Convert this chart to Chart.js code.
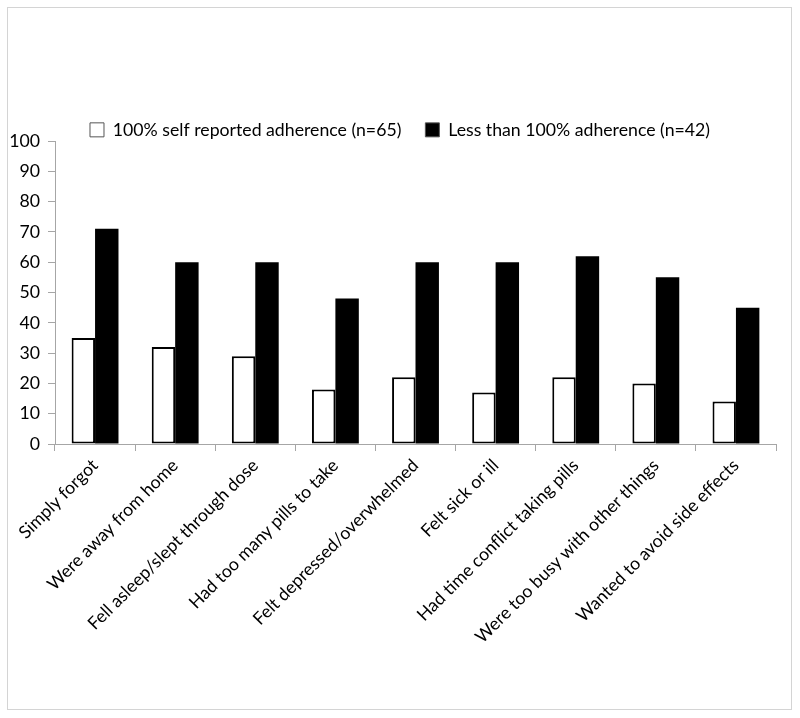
<!DOCTYPE html>
<html>
<head>
<meta charset="utf-8">
<script src="https://cdn.jsdelivr.net/npm/chart.js@4"></script>
<style>
    html, body { margin: 0; padding: 0; background: #fff; }
    #frame { position: absolute; left: 7px; top: 7px; width: 783px; height: 701px; border: 1px solid #d4d4d4; }
    #wrap { position: absolute; left: 0; top: 0; width: 800px; height: 718px; }
</style>
</head>
<body>
<div id="frame"></div>
<div id="wrap"><canvas id="adherenceChart" width="800" height="718"></canvas></div>
<script>
// Reasons for missed doses (% of respondents)
const categories = [
    'Simply forgot',
    'Were away from home',
    'Fell asleep/slept through dose',
    'Had too many pills to take',
    'Felt depressed/overwhelmed',
    'Felt sick or ill',
    'Had time conflict taking pills',
    'Were too busy with other things',
    'Wanted to avoid side effects'
];
const seriesNames = ['100% self reported adherence (n=65)', 'Less than 100% adherence (n=42)'];
const fullAdherence = [35, 32, 29, 18, 22, 17, 22, 20, 14];
const partialAdherence = [71, 60, 60, 48, 60, 60, 62, 55, 45];
const yMin = 0, yMax = 100, yStep = 10;

const FONT = 'Lato, "Open Sans", sans-serif';
const AXIS_GRAY = '#a6a6a6';
const LEGEND_HEIGHT = 44;

document.addEventListener('DOMContentLoaded', () => {
    const ctx = document.getElementById('adherenceChart').getContext('2d');

    new Chart(ctx, {
        type: 'bar',
        data: {
            labels: categories,
            datasets: [{
                label: seriesNames[0],
                data: fullAdherence,
                backgroundColor: '#fff',
                borderColor: '#000',
                borderWidth: 2,
                borderSkipped: false
            }, {
                label: seriesNames[1],
                data: partialAdherence,
                backgroundColor: '#000',
                borderColor: '#000',
                borderWidth: 0
            }]
        },
        options: {
            responsive: false,
            animation: false,
            categoryPercentage: 0.585,
            barPercentage: 1.0,
            layout: { padding: { left: 4, right: 4, top: 97, bottom: 10 } },
            plugins: {
                legend: {
                    position: 'top',
                    labels: {
                        boxWidth: 14,
                        boxHeight: 14,
                        padding: 24,
                        color: '#000',
                        font: { family: FONT, size: 17.7 },
                        generateLabels: chart =>
                            Chart.defaults.plugins.legend.labels.generateLabels(chart)
                                .map(l => ({ ...l, lineWidth: 1, strokeStyle: '#555' }))
                    }
                },
                tooltip: { enabled: false }
            },
            scales: {
                x: {
                    grid: { display: true, drawOnChartArea: false, drawTicks: true, tickLength: 7, color: AXIS_GRAY, offset: true },
                    border: { display: true, color: AXIS_GRAY },
                    ticks: {
                        minRotation: 45,
                        maxRotation: 45,
                        padding: 4,
                        color: '#000',
                        font: { family: FONT, size: 17.7 }
                    },
                    afterFit: scale => { scale.height = 264; }
                },
                y: {
                    min: yMin,
                    max: yMax,
                    grid: { display: true, drawOnChartArea: false, drawTicks: true, tickLength: 7, color: AXIS_GRAY },
                    border: { display: true, color: AXIS_GRAY },
                    ticks: {
                        stepSize: yStep,
                        padding: 8,
                        color: '#000',
                        font: { family: FONT, size: 17.7 }
                    },
                    afterFit: scale => { scale.width = 51; }
                },
                // empty right-hand spacer so the plot ends where the original does
                spacer: {
                    position: 'right',
                    grid: { display: false },
                    border: { display: false },
                    ticks: { display: false },
                    afterFit: scale => { scale.width = 20; }
                }
            }
        },
        plugins: [{
            // keep the legend row tight above the plot, like the original
            id: 'tightLegend',
            afterInit(chart) {
                const legend = chart.legend;
                if (!legend) return;
                const baseFit = legend.fit;
                legend.fit = function () {
                    baseFit.call(this);
                    this.height = LEGEND_HEIGHT;
                };
            }
        }]
    });
});
</script>
</body>
</html>
